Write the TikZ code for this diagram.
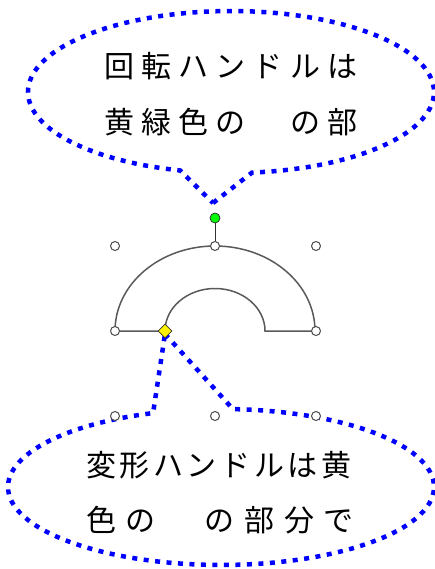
\documentclass[tikz,border=0pt]{standalone}
\usepackage{fontspec}
\setmainfont{Noto Sans CJK JP}
\usetikzlibrary{positioning}
\usetikzlibrary{shapes}

\tikzset{
    balloon/.style={draw=blue, line width=4.5pt, dash pattern=on 5pt off 6.5pt},
    outline/.style={draw=black!65, line width=1.5pt},
    handle/.style={circle, draw=black!70, fill=white, inner sep=0pt, minimum size=9pt, line width=1pt},
    rothandle/.style={circle, draw=black!80, fill=green, inner sep=0pt, minimum size=10pt, line width=0.8pt},
    adjhandle/.style={diamond, draw=black!80, fill=yellow, inner sep=0pt, minimum size=14pt, line width=0.8pt},
    note/.style={anchor=west, inner sep=0pt, font=\fontsize{30}{36}\selectfont},
}

\begin{document}
\begin{tikzpicture}[x=1pt, y=-1pt]
    \useasboundingbox (0,0) rectangle (435,569);

    % block arc
    \draw[outline] (115,331) arc[start angle=180, end angle=360, x radius=100, y radius=85]
        -- (265,331) arc[start angle=0, end angle=-180, x radius=50, y radius=42.5] -- cycle;

    % balloons
    \coordinate (rottip) at (213,203);
    \coordinate (adjtip) at (165,334);
    \draw[balloon] (rottip) -- (252,172.6)
        arc[start angle=84.06, end angle=-255.5, x radius=203, y radius=81] -- cycle;
    \draw[balloon] (adjtip) -- (232.9,409.1)
        arc[start angle=-86.8, end angle=251.4, x radius=213, y radius=78] -- cycle;

    % texts
    \node[note] (rot1) at (104,66) {\addfontfeature{LetterSpace=24}回転ハンドルは};
    \node[note] (rot2) at (104,122) {\addfontfeature{LetterSpace=24}黄緑色の　の部};
    \node[note] (adj1) at (86,465) {\addfontfeature{LetterSpace=12}変形ハンドルは黄};
    \node[note] (adj2) at (86,520) {\addfontfeature{LetterSpace=32}色の　の部分で};

    % handles
    \node[handle] (hNW) at (115,246) {};
    \node[handle] (hN) at (215,246) {};
    \node[handle] (hNE) at (316,246) {};
    \node[handle] (hW) at (115,331) {};
    \node[handle] (hE) at (316,331) {};
    \node[handle] (hSW) at (115,416) {};
    \node[handle] (hS) at (215,416) {};
    \node[handle] (hSE) at (316,416) {};
    \node[rothandle] (rot) at (215,218) {};
    \node[adjhandle] (adj) at (165,331) {};
    \draw[black!80, line width=1pt] (rot) -- (hN);
\end{tikzpicture}
\end{document}
